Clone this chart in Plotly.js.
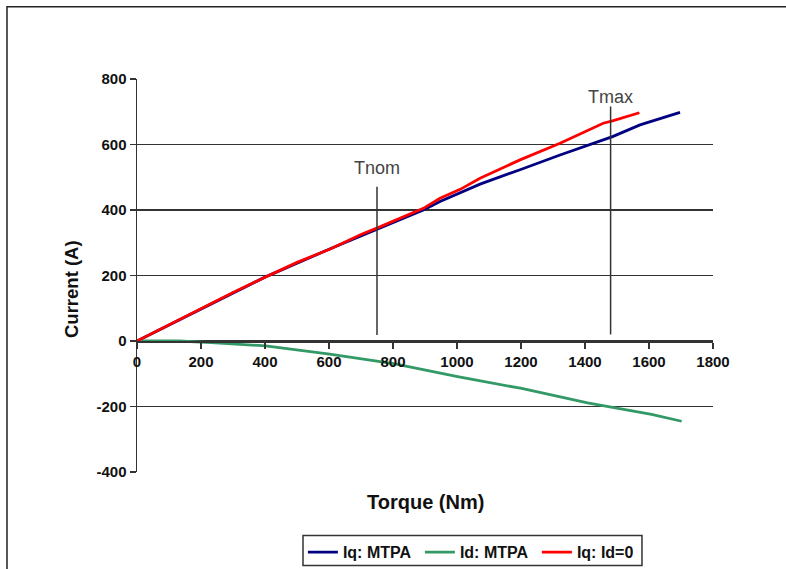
<!DOCTYPE html>
<html>
<head>
<meta charset="utf-8">
<script src="https://cdn.plot.ly/plotly-3.0.1.min.js"></script>
<style>
html,body{margin:0;padding:0;background:#fff;}
#chart{width:786px;height:569px;}
</style>
</head>
<body>
<div id="chart"></div>
<script>
// Iq: MTPA
const iqMtpaTorque = [0, 200, 400, 600, 755, 895, 947, 1010, 1072, 1197, 1322, 1457, 1486, 1572, 1697];
const iqMtpaCurrent = [0, 97, 195, 280, 343, 400, 426, 453, 479, 523, 568, 614, 624, 660, 698];
// Id: MTPA
const idMtpaTorque = [0, 132, 232, 402, 602, 802, 1002, 1202, 1408, 1608, 1702];
const idMtpaCurrent = [0, 0, -5, -15, -40, -69, -109, -145, -189, -224, -245];
// Iq: Id=0
const iqId0Torque = [0, 100, 200, 300, 400, 500, 604, 700, 755, 895, 947, 1010, 1072, 1197, 1322, 1457, 1486, 1570];
const iqId0Current = [0, 50, 98, 148, 195, 240, 281, 325, 347, 405, 436, 463, 497, 553, 604, 665, 672, 697];

const seriesNames = ["Iq: MTPA", "Id: MTPA", "Iq: Id=0"];
const xTicks = [0, 200, 400, 600, 800, 1000, 1200, 1400, 1600, 1800];
const yTicks = [-400, -200, 0, 200, 400, 600, 800];

// Marker lines
const markerNames = ["Tnom", "Tmax"];
const markerTorque = [750, 1480];
const markerTop = [471, 716];
const markerBottom = [18, 20];
const markerLabelY = [528, 745];

const FONT = "Liberation Sans, Arial, sans-serif";
const lineW = 2.8;
const traces = [
  {x: iqMtpaTorque, y: iqMtpaCurrent, name: seriesNames[0], mode: "lines", line: {color: "#000080", width: lineW}},
  {x: idMtpaTorque, y: idMtpaCurrent, name: seriesNames[1], mode: "lines", line: {color: "#339966", width: lineW}},
  {x: iqId0Torque, y: iqId0Current, name: seriesNames[2], mode: "lines", line: {color: "#ff0000", width: lineW}}
];

const shapes = [];
const annotations = [];
for (let i = 0; i < markerNames.length; i++) {
  shapes.push({type: "line", xref: "x", yref: "y", x0: markerTorque[i], x1: markerTorque[i], y0: markerBottom[i], y1: markerTop[i], line: {color: "#333333", width: 1.5}});
  annotations.push({xref: "x", yref: "y", x: markerTorque[i], y: markerLabelY[i], text: markerNames[i], showarrow: false, font: {family: FONT, size: 18, color: "#444444"}});
}
// outer frame
shapes.push({type: "rect", xref: "paper", yref: "paper", x0: -0.2257, x1: 1.3, y0: -0.6, y1: 1.184, line: {color: "#222222", width: 1.5}, fillcolor: "rgba(0,0,0,0)", layer: "below"});
// legend frame
shapes.push({type: "rect", xref: "paper", yref: "paper", x0: 0.2882, x1: 0.8767, y0: -0.2378, y1: -0.1613, line: {color: "#333333", width: 1.5}, fillcolor: "rgba(0,0,0,0)", layer: "above"});

annotations.push({xref: "paper", yref: "paper", x: 0.5, y: -0.077, yanchor: "middle", text: "Torque (Nm)", showarrow: false, font: {family: FONT, size: 20, weight: 700, color: "#111"}});
annotations.push({xref: "paper", yref: "paper", x: -0.1146, y: 0.4656, xanchor: "center", yanchor: "middle", textangle: -90, text: "Current (A)", showarrow: false, font: {family: FONT, size: 18.5, weight: 700, color: "#111"}});

const tickFont = {family: FONT, size: 15, weight: 700, color: "#111"};

const layout = {
  width: 786, height: 569,
  margin: {l: 137, r: 73, t: 79, b: 97, autoexpand: false},
  paper_bgcolor: "#fff", plot_bgcolor: "#fff",
  showlegend: true,
  legend: {orientation: "h", x: 0.288, y: -0.161, xanchor: "left", yanchor: "top", borderwidth: 0, bgcolor: "rgba(0,0,0,0)",
           font: {family: FONT, size: 16, weight: 700, color: "#111"}, itemwidth: 30, entrywidth: 72, entrywidthmode: "pixels", tracegroupgap: 0},
  xaxis: {range: [0, 1800], tickvals: xTicks, ticktext: xTicks.map(String), showgrid: false, zeroline: false,
          showline: true, linecolor: "#333", linewidth: 1.5, ticks: "outside", ticklen: 6, tickcolor: "#333", tickwidth: 1.5,
          anchor: "free", position: 1/3, tickfont: tickFont, fixedrange: true},
  yaxis: {range: [-400, 800], tickvals: yTicks, ticktext: yTicks.map(String), showgrid: true, gridcolor: "#333", gridwidth: 1.5,
          zeroline: false, showline: true, linecolor: "#333", linewidth: 1.5, ticks: "outside", ticklen: 6, tickcolor: "#333", tickwidth: 1.5,
          tickfont: tickFont, fixedrange: true},
  shapes: shapes,
  annotations: annotations
};

Plotly.newPlot("chart", traces, layout, {staticPlot: true, displayModeBar: false});
</script>
</body>
</html>
